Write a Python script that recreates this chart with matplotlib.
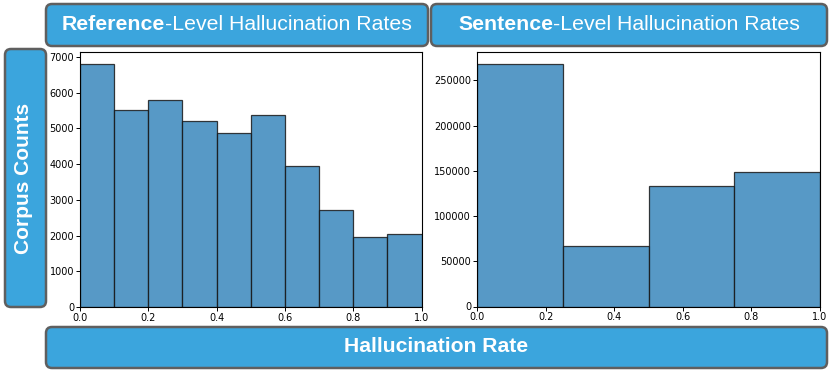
import matplotlib
matplotlib.use("Agg")
import matplotlib.pyplot as plt
from matplotlib.patches import FancyBboxPatch
import numpy as np

# ── Data ────────────────────────────────────────────────────────────────────
ref_edges = [0.0, 0.1, 0.2, 0.3, 0.4, 0.5, 0.6, 0.7, 0.8, 0.9, 1.0]
ref_counts = [6795, 5515, 5805, 5215, 4860, 5375, 3935, 2710, 1970, 2030]

sent_edges = [0.0, 0.25, 0.5, 0.75, 1.0]
sent_counts = [268000, 66600, 133200, 148400]

ref_yticks = [0, 1000, 2000, 3000, 4000, 5000, 6000, 7000]
sent_yticks = [0, 50000, 100000, 150000, 200000, 250000]
xticks = [0.0, 0.2, 0.4, 0.6, 0.8, 1.0]

BOX_BLUE = "#3ba5dd"
BOX_EDGE = "#5f5f5f"
BAR_FACE = (0.1216, 0.4667, 0.7059, 0.75)
BAR_EDGE = (0.1, 0.1, 0.1, 0.85)

W, H = 831, 374
fig = plt.figure(figsize=(W / 100, H / 100), dpi=100)

# background axes in pixel coordinates for the label boxes
bg = fig.add_axes([0, 0, 1, 1], zorder=0)
bg.set_xlim(0, W)
bg.set_ylim(H, 0)
bg.axis("off")


def box(x0, y0, x1, y1):
    p = FancyBboxPatch((x0, y0), x1 - x0, y1 - y0,
                       boxstyle="round,pad=0,rounding_size=6",
                       facecolor=BOX_BLUE, edgecolor=BOX_EDGE, linewidth=1.8)
    bg.add_patch(p)


box(46, 4, 428, 46)
box(431, 4, 827, 46)
box(5, 49, 46, 307)
box(46, 327, 827, 368)

FONT = "Liberation Sans"
renderer = fig.canvas.get_renderer()


def two_part_title(cx, cy, bold, rest, size):
    t1 = bg.text(0, cy, bold, fontsize=size, fontweight="bold", family=FONT,
                 color="white", ha="left", va="center")
    t2 = bg.text(0, cy, rest, fontsize=size, family=FONT,
                 color="white", ha="left", va="center")
    w1 = t1.get_window_extent(renderer).width
    w2 = t2.get_window_extent(renderer).width
    x0 = cx - (w1 + w2) / 2
    t1.set_x(x0)
    t2.set_x(x0 + w1)


two_part_title(237, 24, "Reference", "-Level Hallucination Rates", 15.3)
two_part_title(629, 24, "Sentence", "-Level Hallucination Rates", 15.3)

bg.text(436.5, 346, "Hallucination Rate", fontsize=15.2, fontweight="bold",
        family=FONT, color="white", ha="center", va="center")
bg.text(23.5, 178, "Corpus Counts", fontsize=15, fontweight="bold",
        family=FONT, color="white", ha="center", va="center", rotation=90)


# ── Histogram panels ────────────────────────────────────────────────────────
def panel(rect_px, edges, counts, yticks):
    x0, y0, x1, y1 = rect_px
    ax = fig.add_axes([x0 / W, 1 - y1 / H, (x1 - x0) / W, (y1 - y0) / H],
                      zorder=2)
    edges = np.array(edges)
    ax.bar(edges[:-1], counts, width=np.diff(edges), align="edge",
           facecolor=BAR_FACE, edgecolor=BAR_EDGE, linewidth=0.9)
    ax.set_xlim(0, 1)
    ax.set_ylim(0, max(counts) * 1.05)
    ax.set_xticks(xticks)
    ax.set_yticks(yticks)
    ax.tick_params(labelsize=7, length=2.8, width=0.7, pad=1.5)
    for s in ax.spines.values():
        s.set_linewidth(0.8)
    return ax


panel((80, 52, 421.5, 307), ref_edges, ref_counts, ref_yticks)
panel((477, 52, 820, 306.5), sent_edges, sent_counts, sent_yticks)

fig.savefig("out.png", dpi=100)
